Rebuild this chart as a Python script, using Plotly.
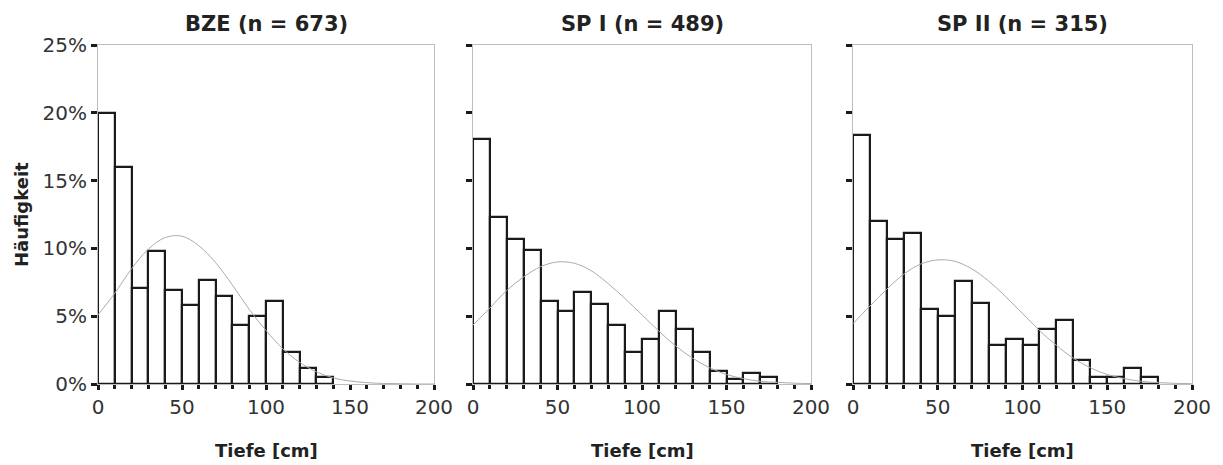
import plotly.graph_objects as go

# ---- data ----
bin_left = [0, 10, 20, 30, 40, 50, 60, 70, 80, 90, 100, 110, 120, 130, 140, 150, 160, 170]

bze_pct = [20.0, 16.0, 7.05, 9.8, 6.9, 5.85, 7.7, 6.5, 4.35, 5.0, 6.1, 2.35, 1.2, 0.5, 0, 0, 0, 0]
sp1_pct = [18.05, 12.3, 10.7, 9.85, 6.15, 5.35, 6.8, 5.9, 4.35, 2.35, 3.3, 5.35, 4.05, 2.35, 0.95, 0.4, 0.8, 0.5]
sp2_pct = [18.4, 12.0, 10.7, 11.1, 5.55, 5.05, 7.6, 6.0, 2.85, 3.35, 2.85, 4.05, 4.7, 1.8, 0.5, 0.5, 1.15, 0.5]

curve_x = [0, 10, 20, 30, 40, 50, 60, 70, 80, 90, 100, 110, 120, 130, 140, 150, 160, 170, 180, 190, 200]
bze_curve = [5.1, 6.7, 8.5, 9.95, 10.8, 10.9, 10.2, 8.95, 7.3, 5.5, 3.95, 2.6, 1.6, 0.9, 0.45, 0.22, 0.1, 0.04, 0.02, 0.0, 0.0]
sp1_curve = [4.35, 5.6, 6.9, 7.9, 8.65, 9.0, 8.9, 8.35, 7.4, 6.3, 5.1, 3.9, 2.8, 1.9, 1.2, 0.7, 0.4, 0.2, 0.12, 0.06, 0.03]
sp2_curve = [4.45, 5.75, 7.0, 8.1, 8.85, 9.15, 9.05, 8.5, 7.6, 6.45, 5.2, 3.95, 2.85, 1.9, 1.2, 0.7, 0.4, 0.2, 0.1, 0.05, 0.02]

titles = ["BZE (n = 673)", "SP I (n = 489)", "SP II (n = 315)"]
y_ticks = [0, 5, 10, 15, 20, 25]
y_tick_text = ["0%", "5%", "10%", "15%", "20%", "25%"]
x_ticks = [0, 50, 100, 150, 200]
x_tick_text = ["0", "50", "100", "150", "200"]

# page body has an 8px margin: the figure is drawn 8px in from the top-left corner
OFF = 8
W, H = 1223 - OFF, 465 - OFF
x_dom_px = [(98 - OFF, 434 - OFF), (473 - OFF, 811 - OFF), (853 - OFF, 1192 - OFF)]
y_bot_px, y_top_px = 384 - OFF, 45 - OFF

fig = go.Figure()
series = [bze_pct, sp1_pct, sp2_pct]
curves = [bze_curve, sp1_curve, sp2_curve]
font_fam = "DejaVu Sans, sans-serif"

for i in range(3):
    xa = "x" if i == 0 else f"x{i+1}"
    ya = "y" if i == 0 else f"y{i+1}"
    xs, ys = [], []
    for l, v in zip(bin_left, series[i]):
        if v > 0:
            xs.append(l + 5)
            ys.append(v)
    fig.add_trace(go.Scatter(
        x=curve_x, y=curves[i], mode="lines", xaxis=xa, yaxis=ya,
        line=dict(color="#ababab", width=1, shape="spline"),
        showlegend=False, hoverinfo="skip",
    ))
    fig.add_trace(go.Bar(
        x=xs, y=ys, width=10, xaxis=xa, yaxis=ya,
        marker=dict(color="rgba(255,255,255,0)", line=dict(color="#1a1a1a", width=2.2)),
        showlegend=False,
    ))

layout = dict(
    template="none",
    width=W, height=H,
    margin=dict(l=0, r=0, t=0, b=0, pad=0),
    paper_bgcolor="white", plot_bgcolor="white",
    bargap=0,
    font=dict(family=font_fam, color="#222222", size=18),
    annotations=[],
)
ydom = [(H - y_bot_px) / H, (H - y_top_px) / H]
for i in range(3):
    sx = "" if i == 0 else str(i + 1)
    x0, x1 = x_dom_px[i]
    layout["xaxis" + sx] = dict(
        domain=[x0 / W, x1 / W], range=[0, 200], anchor="y" + sx, automargin=False,
        tickmode="array", tickvals=x_ticks, ticktext=x_tick_text,
        ticks="outside", ticklen=5, tickwidth=3, tickcolor="#1a1a1a",
        minor=dict(dtick=10, tick0=0, ticks="outside", ticklen=4, tickwidth=3, tickcolor="#1a1a1a", showgrid=False),
        showline=True, linecolor="#bdbdbd", linewidth=1, mirror=True,
        showgrid=False, zeroline=False, tickfont=dict(size=20, color="#333333", family=font_fam),
        fixedrange=True,
    )
    layout["yaxis" + sx] = dict(
        domain=ydom, range=[0, 25], anchor="x" + sx, automargin=False,
        tickmode="array", tickvals=y_ticks, ticktext=y_tick_text,
        ticks="outside", ticklen=6, tickwidth=3, tickcolor="#1a1a1a",
        showticklabels=(i == 0),
        showline=True, linecolor="#bdbdbd", linewidth=1, mirror=True,
        showgrid=False, zeroline=False, tickfont=dict(size=20, color="#333333", family=font_fam),
        fixedrange=True,
    )
    cx = (x0 + x1) / 2 / W
    layout["annotations"].append(dict(
        text="<b>" + titles[i] + "</b>", x=cx, y=(H - (24 - OFF)) / H, xref="paper", yref="paper",
        showarrow=False, font=dict(size=21, color="#222222", family=font_fam), xanchor="center", yanchor="middle",
    ))
    layout["annotations"].append(dict(
        text="<b>Tiefe [cm]</b>", x=cx, y=(H - (450 - OFF)) / H, xref="paper", yref="paper",
        showarrow=False, font=dict(size=18, color="#222222", family=font_fam), xanchor="center", yanchor="middle",
    ))
layout["annotations"].append(dict(
    text="<b>Häufigkeit</b>", x=(21 - OFF) / W, y=(H - (215 - OFF)) / H, xref="paper", yref="paper",
    showarrow=False, textangle=-90, font=dict(size=18, color="#222222", family=font_fam),
    xanchor="center", yanchor="middle",
))

fig.update_layout(**layout)
fig.write_html("out.html")
